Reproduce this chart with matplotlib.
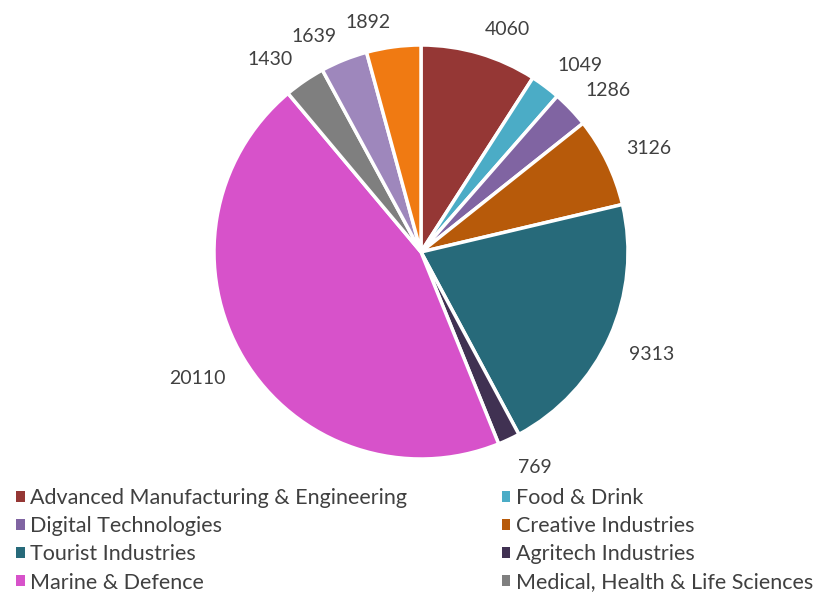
import matplotlib
matplotlib.use("Agg")
import matplotlib.pyplot as plt
from matplotlib.patches import Patch

plt.rcParams['font.family'] = ['Lato', 'DejaVu Sans']

categories = ["Advanced Manufacturing & Engineering", "Food & Drink",
              "Digital Technologies", "Creative Industries",
              "Tourist Industries", "Agritech Industries",
              "Marine & Defence", "Medical, Health & Life Sciences",
              "", ""]
values = [4060, 1049, 1286, 3126, 9313, 769, 20110, 1430, 1639, 1892]
colors = ["#953735", "#4BACC6", "#8064A2", "#B75A0A", "#276A7A",
          "#403152", "#D752CA", "#7F7F7F", "#9E87BC", "#F07A12"]

text_color = "#404040"

fig = plt.figure(figsize=(8.21, 5.95), dpi=100)
R = 207.0
cx, cy = 421.0, 252.0
half = 250.0
ax = fig.add_axes([(cx - half) / 821, (595 - cy - half) / 595, 2 * half / 821, 2 * half / 595])

wedges, texts = ax.pie(values, labels=[str(v) for v in values], colors=colors,
                       startangle=90, counterclock=False, radius=1.0,
                       labeldistance=1.1,
                       wedgeprops=dict(edgecolor='white', linewidth=2.5),
                       textprops=dict(fontsize=14, color=text_color))
# nudge labels vertically, like box-edge placement of data labels
for t in texts:
    x, y = t.get_position()
    t.set_position((x, y + (0.02 if y > 0 else -0.045)))

L = half / R
ax.set_xlim(-L, L)
ax.set_ylim(-L, L)
ax.set_aspect('equal')
ax.axis('off')

# legend (visible entries), row-major order in two columns
order = [0, 2, 4, 6, 1, 3, 5, 7]
handles = [Patch(facecolor=colors[i], edgecolor='none') for i in order]
labels = [categories[i] for i in order]
fig.legend(handles, labels, ncol=2, loc='upper left',
           bbox_to_anchor=(16 / 821, 1 - 488 / 595), frameon=False,
           fontsize=15.5, labelcolor=text_color, handlelength=0.4,
           handleheight=0.4, handletextpad=0.25, columnspacing=4.4,
           labelspacing=0.38, borderaxespad=0, borderpad=0)

fig.savefig("out.png", dpi=100)
